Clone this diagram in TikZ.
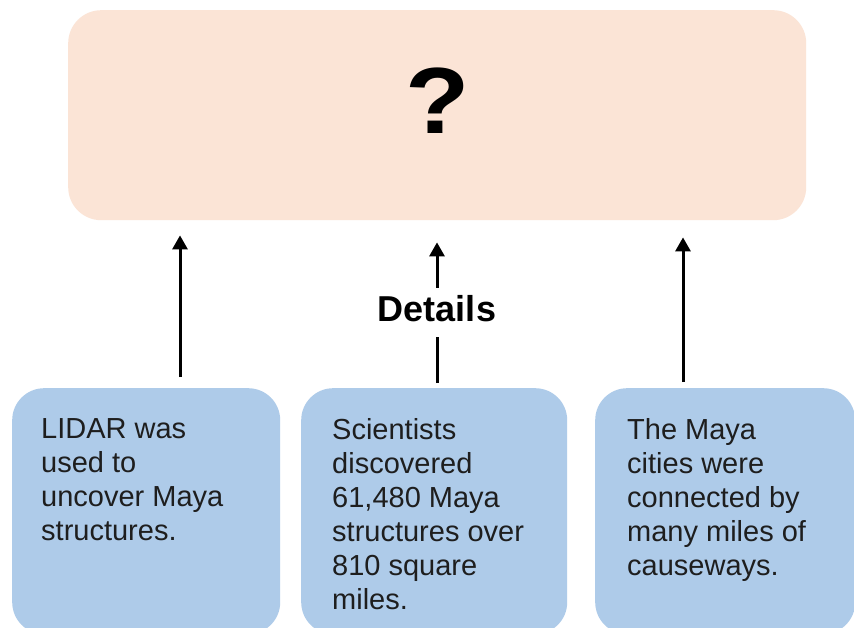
\documentclass[tikz,border=0pt]{standalone}
\usepackage{fontspec}
\setmainfont{Liberation Sans}
\usetikzlibrary{arrows.meta}
\definecolor{peach}{HTML}{FBE4D6}
\definecolor{lblue}{HTML}{AECBE9}
\definecolor{ink}{HTML}{1E1E1E}
\begin{document}
\begin{tikzpicture}[x=1pt,y=-1pt,
  topbox/.style={fill=peach, rounded corners=33pt, inner sep=0pt, anchor=north west},
  detbox/.style={fill=lblue, rounded corners=32pt, inner sep=0pt, anchor=north west},
  txt/.style={anchor=north west, inner sep=0pt, align=left, text=ink, font=\fontsize{29}{34}\selectfont},
  arr/.style={line width=3pt, -{Triangle[width=15pt,length=14pt]}},
  plain/.style={line width=3pt}
  ]
\useasboundingbox[fill=white] (0,0) rectangle (854,628);
% boxes
\node[topbox, minimum width=738pt, minimum height=210pt] (top) at (68,10) {};
\node[detbox, minimum width=268pt, minimum height=246pt] (b1) at (12,388) {};
\node[detbox, minimum width=266pt, minimum height=246pt] (b2) at (301,388) {};
\node[detbox, minimum width=260pt, minimum height=246pt] (b3) at (595,388) {};
% question mark
\node[font=\bfseries\fontsize{94}{94}\selectfont, xscale=1.12, inner sep=0pt] (q) at (438,101) {?};
% texts
\node[txt] (t1) at (41,418) {LIDAR was\\used to\\uncover Maya\\structures.};
\node[txt] (t2) at (332,418) {Scientists\\discovered\\61,480 Maya\\structures over\\810 square\\miles.};
\node[txt] (t3) at (627,418) {The Maya\\cities were\\connected by\\many miles of\\causeways.};
% details label
\node[font=\bfseries\fontsize{36}{40}\selectfont, inner sep=0pt, text height=34pt, text depth=15pt, anchor=base] (det) at (437,322) {Details};
% arrows
\coordinate (x1) at (180,0);
\coordinate (x2) at (437,0);
\coordinate (x3) at (683,0);
\draw[arr, shorten <=11pt, shorten >=15pt] (b1.north -| x1) -- (top.south -| x1);
\draw[plain, shorten <=5pt] (b2.north -| x2) -- (det.south);
\draw[arr, shorten >=22pt] (det.north) -- (top.south -| x2);
\draw[arr, shorten <=6pt, shorten >=17pt] (b3.north -| x3) -- (top.south -| x3);
\end{tikzpicture}
\end{document}
